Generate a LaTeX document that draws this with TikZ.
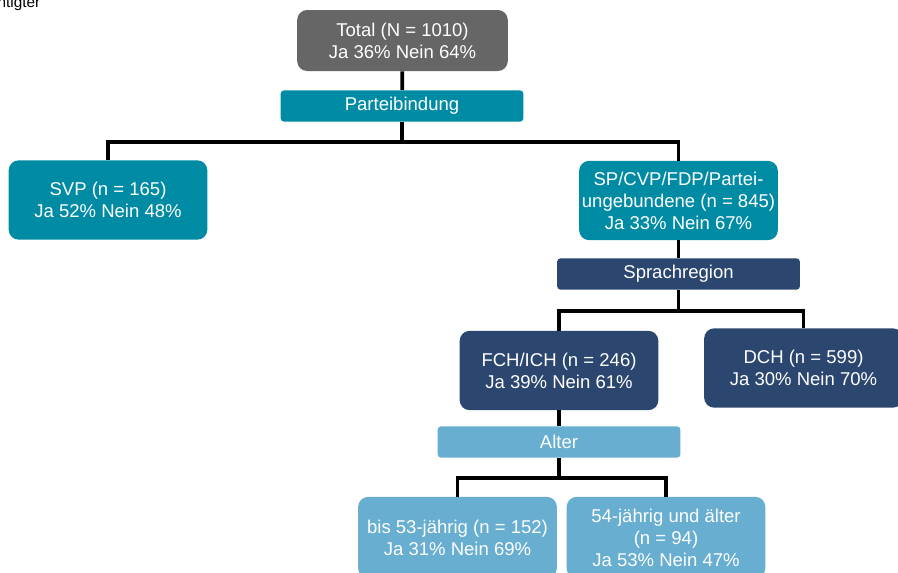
\documentclass[tikz,border=0pt]{standalone}
\usepackage{fontspec}
\setmainfont{Liberation Sans}
\usetikzlibrary{positioning}
\definecolor{G}{RGB}{102,102,102}
\definecolor{T}{RGB}{0,139,165}
\definecolor{N}{RGB}{44,71,111}
\definecolor{L}{RGB}{103,174,208}
\tikzstyle{box} = [rectangle,
rounded corners=7.5pt,
inner sep=0pt,
minimum width=149pt,
minimum height=59.5pt,
align=center, text=white,
font=\fontsize{13.9}{16.5}\selectfont]
\tikzstyle{split} = [rectangle,
rounded corners=2.5pt,
inner sep=0pt,
minimum width=182pt,
minimum height=23.5pt,
text=white,
font=\fontsize{13.9}{16.5}\selectfont]
\tikzstyle{branch} = [line width=2.8pt, black]
\begin{document}
\begin{tikzpicture}[x=0.75pt, y=-0.75pt]
      \useasboundingbox (0,0) rectangle (898,572);
      \node[anchor=base east, font=\fontsize{11.5}{13}\selectfont] (note) at (45,7.5) {htigter};

      \node[box, fill=G, minimum width=158pt, minimum height=45.75pt] (total) at (402.5,40.5) {Total (N = 1010)\\Ja 36\% Nein 64\%};
      \node[split, fill=T] (partei) at (402,106) {Parteibindung};

      \node[box, fill=T] (svp) at (108,200) {SVP (n = 165)\\Ja 52\% Nein 48\%};
      \node[box, fill=T] (sp)  at (678.5,200.5) {SP/CVP/FDP/Partei-\\ungebundene (n = 845)\\Ja 33\% Nein 67\%};
      \node[split, fill=N] (sprache) at (678.5,274) {Sprachregion};

      \node[box, fill=N] (fch) at (559,370.5) {FCH/ICH (n = 246)\\Ja 39\% Nein 61\%};
      \node[box, fill=N] (dch) at (803.5,368) {DCH (n = 599)\\Ja 30\% Nein 70\%};
      \node[split, fill=L] (alter) at (559,442) {Alter};

      \node[box, fill=L, minimum height=61pt] (jung) at (457.5,537.5) {bis 53-jährig (n = 152)\\Ja 31\% Nein 69\%};
      \node[box, fill=L, minimum height=61pt] (alt)  at (666,537.5) {54-jährig und älter\\(n = 94)\\Ja 53\% Nein 47\%};

      \coordinate (j1) at (402,142);
      \coordinate (j2) at (678.5,311);
      \coordinate (j3) at (559,478);

      \draw[branch] (total) -- (partei);
      \draw[branch] (partei) -- (j1) -| (svp);
      \draw[branch] (j1) -| (sp);

      \draw[branch] (sp) -- (sprache);
      \draw[branch] (sprache) -- (j2) -| (fch);
      \draw[branch] (j2) -| (dch);

      \draw[branch] (fch) -- (alter);
      \draw[branch] (alter) -- (j3) -| (jung);
      \draw[branch] (j3) -| (alt);
    \end{tikzpicture}
\end{document}
